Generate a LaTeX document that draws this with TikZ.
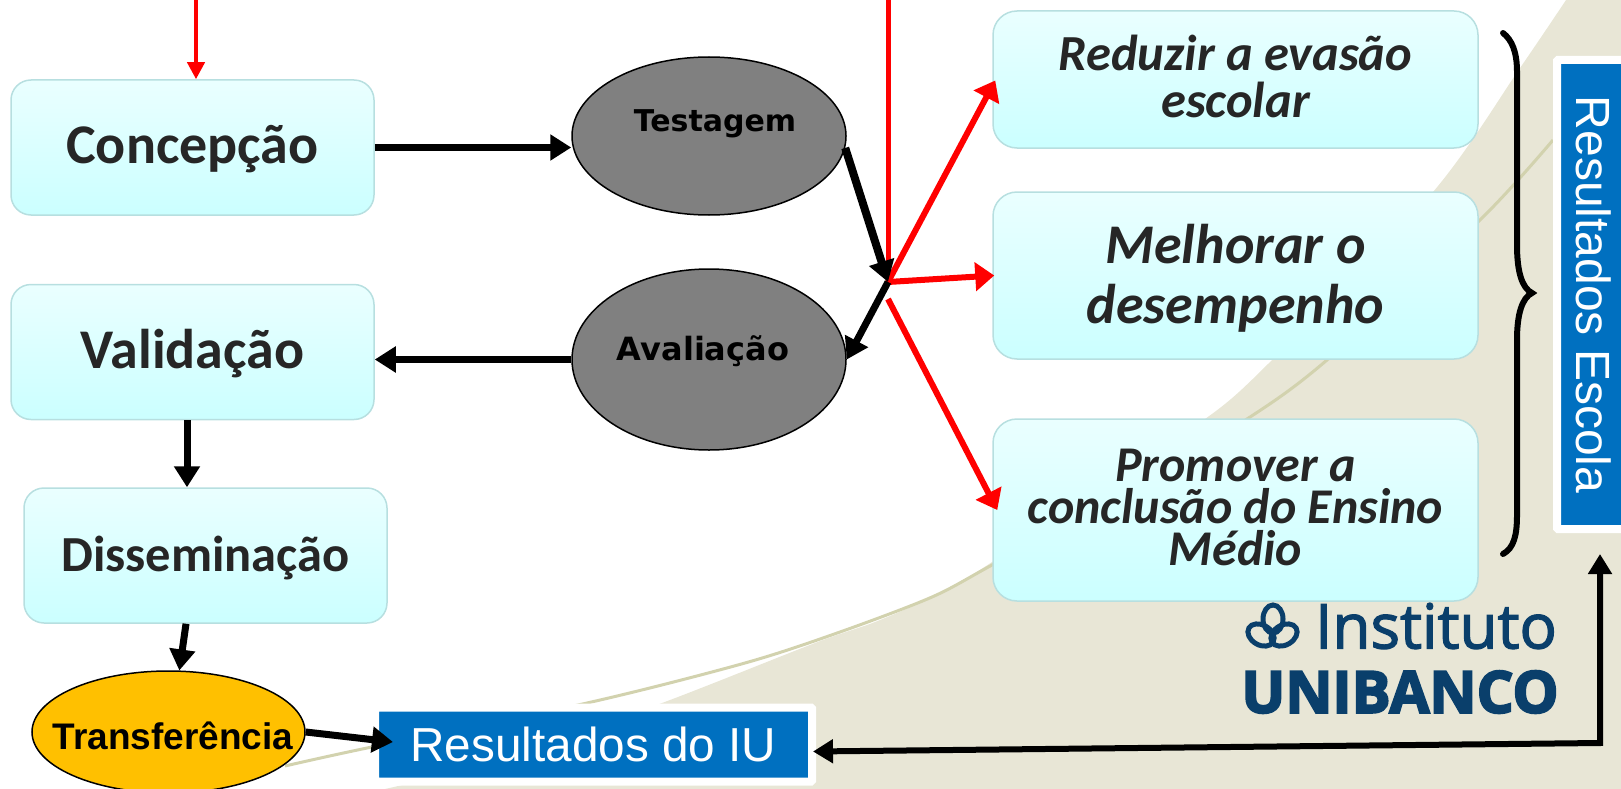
\documentclass[tikz,border=0pt]{standalone}
\usepackage{fontspec}
\usepackage{tikz}
\usetikzlibrary{arrows.meta}
\usetikzlibrary{shapes.geometric}
\setmainfont{Liberation Sans}
\newfontfamily\boxfont{Carlito}
\newfontfamily\ovalfont{DejaVu Sans}
\newfontfamily\logofont[FakeBold=2]{Open Sans}
\newfontfamily\logoheavy[BoldFeatures={FakeBold=3.5}]{Open Sans}
\definecolor{boxtop}{HTML}{EAFFFF}
\definecolor{boxbot}{HTML}{CBFFFF}
\definecolor{boxline}{HTML}{B7DFE0}
\definecolor{bege}{HTML}{E8E6D6}
\definecolor{oliva}{HTML}{D2D2AE}
\definecolor{azul}{HTML}{0070C0}
\definecolor{logoazul}{HTML}{0A3F6B}
\definecolor{textodark}{HTML}{262626}
\definecolor{ambar}{HTML}{FFC000}
\tikzset{
  etapa/.style={draw=boxline, line width=1.5pt, rounded corners=20pt, top color=boxtop, bottom color=boxbot,
    minimum width=363pt, minimum height=135pt, text=textodark, text height=32pt, text depth=0pt,
    font=\boxfont\bfseries\fontsize{56}{56}\selectfont},
  meta/.style={draw=boxline, line width=1.5pt, rounded corners=24pt, top color=boxtop, bottom color=boxbot,
    minimum width=485pt, align=center, text=textodark},
  oval/.style={ellipse, draw=black, line width=1.5pt, inner sep=0pt},
  rotulo/.style={draw=white, line width=8pt, rounded corners=1pt, fill=azul, text=white, inner sep=0pt},
  seta/.style={line width=7pt, black, -{Triangle[length=21pt,width=25pt]}},
  setared/.style={line width=6pt, red, -{Triangle[length=19pt,width=28pt]}},
}
\begin{document}
\begin{tikzpicture}[x=1pt, y=-1pt]
  \useasboundingbox (0,0) rectangle (1621,789);
  \clip (0,0) rectangle (1621,789);
  % background
  \fill[bege] plot[smooth] coordinates {(1566,0) (1520,68) (1433,192) (1272,360) (1205,419) (1090,490) (992,562) (932,597) (875,622) (815,643) (662,703) (500,760) (385,789)} -- (1621,789) -- (1621,0) -- cycle;
  \draw[oliva, line width=3pt] plot[smooth] coordinates {(1553,140) (1480,220) (1327,360) (1247,419) (1120,495) (992,565) (932,597) (840,632) (745,663) (587,703) (367,748) (285,766)};

  % logo
  \foreach \cx/\cy/\ang in {1273/619/0, 1261/635/60, 1284/635/-60}
    \draw[logoazul, line width=5pt, rotate around={\ang:(\cx,\cy)}] (\cx,\cy) ellipse (10 and 14);
  \node[text=logoazul, inner sep=0pt] (instituto) at (1436,626) {\logofont\fontsize{62}{62}\selectfont Instituto};
  \node[text=logoazul, inner sep=0pt] (unibanco) at (1400,692) {\logoheavy\bfseries\fontsize{58}{58}\selectfont UNIBANCO};

  % left column
  \node[etapa] (concepcao) at (192.5,147.5) {Concepção};
  \node[etapa] (validacao) at (192.5,352) {Validação};
  \node[etapa, font=\boxfont\bfseries\fontsize{50.5}{50.5}\selectfont] (disseminacao) at (205.5,555.5) {Disseminação};

  % ovals
  \node[oval, fill=black!50, minimum width=274pt, minimum height=158pt] (testagem) at (709,136) {};
  \node[oval, fill=black!50, minimum width=274pt, minimum height=181pt] (avaliacao) at (709,359.5) {};
  \node[oval, fill=ambar, minimum width=273pt, minimum height=122pt] (transferencia) at (168.5,732) {};
  \node[font=\ovalfont\bfseries\fontsize{30}{30}\selectfont] (testagemtxt) at (715,124) {Testagem};
  \node[font=\ovalfont\bfseries\fontsize{32}{32}\selectfont] (avaliacaotxt) at (703,351) {Avaliação};
  \node[font=\bfseries\fontsize{37}{37}\selectfont] (transferenciatxt) at (173,736) {Transferência};

  % goals
  \node[meta, minimum height=137pt, font=\boxfont\bfseries\itshape\fontsize{50.5}{47}\selectfont] (reduzir) at (1235.5,79.5) {Reduzir a evasão\\escolar\vspace{7pt}};
  \node[meta, minimum height=167pt, font=\boxfont\bfseries\itshape\fontsize{56}{60}\selectfont] (melhorar) at (1235.5,275.5) {\rule{0pt}{44pt}Melhorar o\\desempenho};
  \node[meta, minimum height=182pt, font=\boxfont\bfseries\itshape\fontsize{50}{42}\selectfont] (promover) at (1235.5,510) {Promover a\\conclusão do Ensino\\Médio\vspace{6pt}};

  % results
  \node[rotulo, minimum width=437pt, minimum height=74pt, font=\fontsize{47.7}{47.7}\selectfont] (resultiu) at (593.5,744.5) {Resultados do IU};
  \node[rotulo, rotate=-90, minimum width=469pt, minimum height=73pt, font=\fontsize{48}{48}\selectfont] (escola) at (1593.5,294.5) {Resultados Escola};

  % brace
  \draw[black, line width=6pt, line cap=round] (1503,33) .. controls (1512,40) and (1517,52) .. (1517,72) -- (1517,245) .. controls (1517,272) and (1522,288) .. (1532,293) .. controls (1522,298) and (1517,314) .. (1517,340) -- (1517,515) .. controls (1517,535) and (1514,548) .. (1503,554);

  % connectors
  \coordinate (hub) at (888,282);
  \coordinate (hubb) at (888,299);
  \coordinate (topa) at (196,0);
  \coordinate (topb) at (888,0);
  \coordinate (canto) at (1600,743);
  \draw[red, line width=4pt, -{Triangle[length=17pt,width=17pt]}] (topa) -- (topa |- concepcao.north);
  \draw[red, line width=5pt] (topb) -- (hub);
  \draw[setared] (hub) -- ([xshift=3pt,yshift=-1pt]reduzir.west);
  \draw[setared] (hub) -- ([xshift=2pt]melhorar.west);
  \draw[setared] (hubb) -- ([xshift=5pt]promover.west);
  \draw[seta] (concepcao.east) -- (testagem.west |- concepcao.east);
  \draw[seta, line width=8pt] (testagem.-5) -- (hub);
  \draw[seta] (hub) -- (avaliacao.east);
  \draw[seta] (avaliacao.west) -- (avaliacao.west -| validacao.east);
  \draw[seta] ([xshift=-5.5pt]validacao.south) -- ([xshift=-18.5pt]disseminacao.north);
  \draw[seta] ([xshift=-19.5pt]disseminacao.south) -- (transferencia.80);
  \draw[seta] (transferencia.east) -- ([xshift=22pt,yshift=2.5pt]resultiu.west);
  \draw[seta, line width=6pt, {Triangle[length=20pt,width=23pt]}-{Triangle[length=20pt,width=23pt]}] ([xshift=-3pt,yshift=-7pt]resultiu.east) -- (canto) -- ([yshift=-21pt]escola.east -| canto);
\end{tikzpicture}
\end{document}
